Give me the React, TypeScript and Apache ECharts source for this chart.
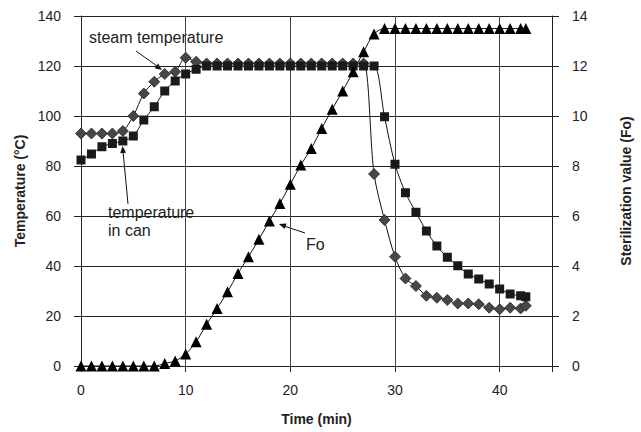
import React, { useEffect, useRef } from "react";
import * as echarts from "echarts";

const time = [0, 1, 2, 3, 4, 5, 6, 7, 8, 9, 10, 11, 12, 13, 14, 15, 16, 17, 18, 19, 20, 21, 22, 23, 24, 25, 26, 27, 28, 29, 30, 31, 32, 33, 34, 35, 36, 37, 38, 39, 40, 41, 42, 42.5];

const steamTemp = [93, 93, 93, 93, 94, 100, 109, 113.7, 116.8, 117.7, 123.3, 121.7,
  121, 121, 121, 121, 121, 121, 121, 121, 121, 121, 121, 121, 121, 121, 121, 121,
  76.8, 58.4, 43.7, 35, 32, 28.1, 27.3, 26.4, 25, 25, 24.7, 23.3, 22.7, 23.3, 23, 24.1];

const canTemp = [82.4, 84.8, 87.7, 89, 90, 92, 98.4, 103.7, 110, 114, 116.8, 118.7,
  120, 120, 120, 120, 120, 120, 120, 120, 120, 120, 120, 120, 120, 120, 120, 120, 120,
  99.7, 80.7, 69.3, 61.5, 54, 48, 43.5, 40.1, 36.8, 34.8, 32.8, 30.8, 28.8, 28.1, 27.7];

const foValue = [0, 0, 0, 0, 0, 0, 0, 0, 0.1, 0.2, 0.48, 0.97, 1.67, 2.3, 2.97, 3.7, 4.37,
  5.07, 5.8, 6.5, 7.27, 8.04, 8.7, 9.5, 10.27, 11.0, 11.77, 12.57, 13.28,
  13.5, 13.5, 13.5, 13.5, 13.5, 13.5, 13.5, 13.5, 13.5, 13.5, 13.5, 13.5, 13.5, 13.5, 13.5];

const xTicks = [0, 10, 20, 30, 40];

const FONT = "'Liberation Sans', Arial, sans-serif";

export default function App() {
  const ref = useRef<HTMLDivElement>(null);
  useEffect(() => {
    document.body.style.margin = "0";
    const chart = echarts.init(ref.current!, undefined, { renderer: "svg" });
    const pair = (ys: number[]) => time.map((t, i) => [t, ys[i]]);
    const txt = (x: number, y: number, s: string) => ({
      type: "text",
      x,
      y,
      style: { text: s, fill: "#222", font: `16px ${FONT}`, textVerticalAlign: "middle" },
    });
    const ln = (x1: number, y1: number, x2: number, y2: number) => ({
      type: "line",
      shape: { x1, y1, x2, y2 },
      style: { stroke: "#111", lineWidth: 1 },
    });
    const head = (pts: number[][]) => ({
      type: "polygon",
      shape: { points: pts },
      style: { fill: "#111" },
    });
    chart.setOption({
      animation: false,
      textStyle: { fontFamily: FONT },
      grid: { left: 81, right: 79, top: 16, bottom: 66 },
      xAxis: {
        type: "value",
        min: 0,
        max: 45,
        interval: 10,
        name: "Time (min)",
        nameLocation: "middle",
        nameGap: 46,
        nameTextStyle: { fontWeight: "bold", fontSize: 14, color: "#222", fontFamily: FONT },
        axisLine: { show: true, lineStyle: { color: "#222", width: 1 } },
        axisTick: { show: true, length: 6, lineStyle: { color: "#222" } },
        axisLabel: {
          fontSize: 14,
          color: "#222",
          margin: 17,
          fontFamily: FONT,
          formatter: (v: number) => (xTicks.includes(v) ? String(v) : ""),
        },
        splitLine: { show: true, lineStyle: { color: "#444", width: 1 } },
      },
      yAxis: [
        {
          type: "value",
          min: 0,
          max: 140,
          interval: 20,
          position: "left",
          name: "Temperature (°C)",
          nameLocation: "middle",
          nameGap: 53,
          nameTextStyle: { fontWeight: "bold", fontSize: 14, color: "#222", fontFamily: FONT },
          axisLine: { show: true, lineStyle: { color: "#222", width: 1 } },
          axisTick: { show: true, length: 7, lineStyle: { color: "#222" } },
          axisLabel: { fontSize: 14, color: "#222", margin: 20, fontFamily: FONT },
          splitLine: { show: true, lineStyle: { color: "#222", width: 1 } },
        },
        {
          type: "value",
          min: 0,
          max: 14,
          interval: 2,
          position: "right",
          name: "Sterilization value (Fo)",
          nameLocation: "middle",
          nameGap: 67,
          nameTextStyle: { fontWeight: "bold", fontSize: 14, color: "#222", fontFamily: FONT },
          axisLine: { show: true, lineStyle: { color: "#222", width: 1 } },
          axisTick: { show: true, length: 7, lineStyle: { color: "#222" } },
          axisLabel: { fontSize: 14, color: "#222", margin: 20, fontFamily: FONT },
          splitLine: { show: false },
        },
      ],
      series: [
        {
          name: "steam temperature",
          type: "line",
          yAxisIndex: 0,
          data: pair(steamTemp),
          smooth: 0.3,
          symbol: "diamond",
          symbolSize: 11,
          lineStyle: { color: "#111", width: 1 },
          itemStyle: { color: "#474747", borderColor: "#222", borderWidth: 0.8 },
        },
        {
          name: "temperature in can",
          type: "line",
          yAxisIndex: 0,
          data: pair(canTemp),
          smooth: 0.3,
          symbol: "rect",
          symbolSize: 9,
          lineStyle: { color: "#111", width: 1 },
          itemStyle: { color: "#1a1a1a" },
        },
        {
          name: "Fo",
          type: "line",
          yAxisIndex: 1,
          data: pair(foValue),
          smooth: 0.3,
          symbol: "triangle",
          symbolSize: 11,
          lineStyle: { color: "#111", width: 1 },
          itemStyle: { color: "#000" },
        },
      ],
      graphic: [
        txt(89, 37, "steam temperature"),
        ln(136, 51, 157, 66),
        head([[162, 70], [154.6, 68.3], [158.1, 63.4]]),
        txt(108, 212, "temperature"),
        txt(108, 230, "in can"),
        ln(128, 204, 123, 151),
        head([[122.5, 146], [126.1, 152.7], [120.2, 153.2]]),
        txt(306, 244, "Fo"),
        ln(305, 233, 284, 226),
        head([[279, 224], [286.6, 223.4], [284.6, 229.1]]),
      ],
    });
    return () => chart.dispose();
  }, []);
  return <div ref={ref} style={{ width: 641, height: 432 }} />;
}
